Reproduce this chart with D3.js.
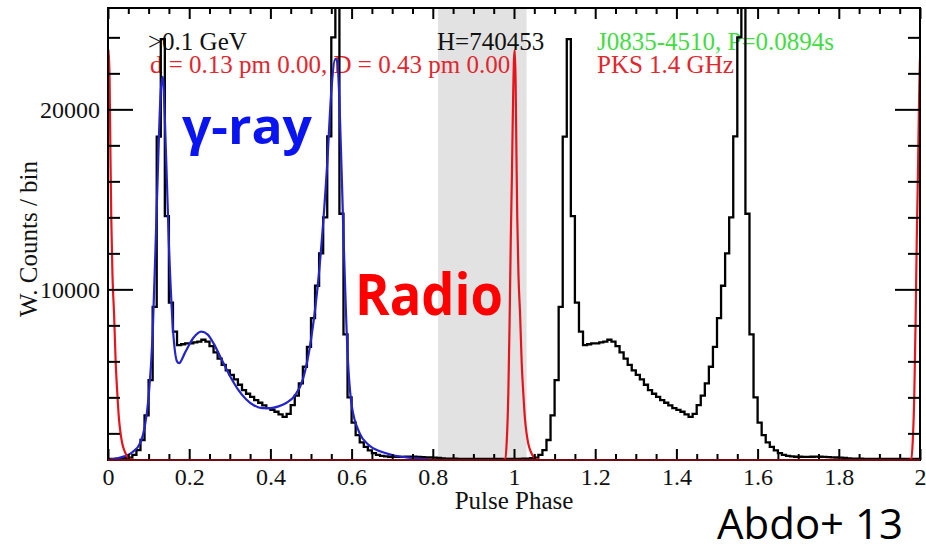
<!DOCTYPE html>
<html>
<head>
<meta charset="utf-8">
<script src="https://cdn.jsdelivr.net/npm/d3@7"></script>
<style>
  body { margin: 0; background: #fff; }
  svg { display: block; }
</style>
</head>
<body>
<div id="canvas"></div>
<script>
// weighted counts per 0.01 phase bin (one rotation, plotted twice)
const counts = [
  580, 580, 590, 600, 620, 650, 800, 1070, 1630, 3000,
  4960, 9030, 18480, 23900, 14070, 9260, 7650, 6900, 6950, 7000,
  7000, 7050, 7100, 7200, 7100, 6850, 6500, 6150, 5800, 5500,
  5250, 5000, 4700, 4400, 4200, 4030, 3850, 3700, 3550, 3400,
  3300, 3200, 3050, 2920, 3080, 3570, 4100, 4780, 5700, 6800,
  8400, 10200, 12000, 14000, 18500, 24000, 26500, 14200, 7500, 4000,
  2600, 1900, 1500, 1250, 1050, 900, 800, 750, 720, 700,
  700, 690, 690, 700, 710, 700, 690, 680, 670, 660,
  650, 630, 610, 600, 590, 590, 580, 580, 580, 580,
  580, 580, 580, 580, 580, 580, 580, 580, 580, 580
];

// gamma-ray template fit (first rotation only)
const fitPhase = [0, 0.02, 0.04, 0.06, 0.08, 0.09, 0.10, 0.11, 0.12, 0.13, 0.135, 0.14, 0.15, 0.16, 0.17, 0.175,
  0.19, 0.21, 0.23, 0.245, 0.26, 0.28, 0.30, 0.32, 0.34, 0.36, 0.38, 0.40, 0.42, 0.44, 0.46, 0.48,
  0.50, 0.52, 0.54, 0.55, 0.56, 0.565, 0.57, 0.58, 0.59, 0.60, 0.62, 0.64, 0.67, 0.70, 0.74, 0.79];
const fitValue = [530, 600, 720, 950, 1500, 2300, 4000, 7500, 14500, 21000, 21800, 19500, 12500, 7800, 6000, 5900,
  6500, 7300, 7650, 7500, 7000, 6100, 5200, 4450, 3900, 3550, 3400, 3400, 3500, 3700, 4100, 5000,
  7200, 11000, 17000, 21000, 22800, 22600, 20500, 13000, 6500, 3600, 2000, 1400, 1000, 800, 650, 560];

// radio profile, phase offset from the radio peak
const radioOffset = [-0.06, -0.03, -0.022, -0.018, -0.014, -0.011, -0.008, -0.005, -0.003, 0, 0.002, 0.004,
  0.006, 0.008, 0.011, 0.015, 0.019, 0.023, 0.027, 0.031, 0.035, 0.041, 0.048, 0.056, 0.066];
const radioValue = [520, 520, 560, 1500, 4200, 8000, 12700, 16500, 19500, 22800, 23300, 21500,
  17500, 14000, 10800, 8600, 5900, 4200, 2800, 2000, 1450, 1000, 700, 560, 520];
const radioPeaks = [0, 1, 2];

const offPulse = [0.813, 1.031];
const xMajor = [0, 0.2, 0.4, 0.6, 0.8, 1, 1.2, 1.4, 1.6, 1.8, 2];
const xTickLabels = ["0", "0.2", "0.4", "0.6", "0.8", "1", "1.2", "1.4", "1.6", "1.8", "2"];
const yMajor = [10000, 20000];
const yTickLabels = ["10000", "20000"];

const width = 926, height = 548;
const margin = { top: 8, left: 108, bottom: 88, right: 6 };
const serif = "'Liberation Serif', 'DejaVu Serif', serif";

const svg = d3.select("#canvas").append("svg")
  .attr("width", width).attr("height", height);

const x = d3.scaleLinear().domain([0, 2]).range([margin.left, width - margin.right]);
const y = d3.scaleLinear().domain([520, 25630]).range([height - margin.bottom, margin.top]);

svg.append("defs").append("clipPath").attr("id", "plot")
  .append("rect")
  .attr("x", x(0)).attr("y", y.range()[1])
  .attr("width", x(2) - x(0)).attr("height", y.range()[0] - y.range()[1]);

// off-pulse band
svg.append("rect")
  .attr("x", x(offPulse[0])).attr("y", y.range()[1])
  .attr("width", x(offPulse[1]) - x(offPulse[0]))
  .attr("height", y.range()[0] - y.range()[1])
  .attr("fill", "#e2e2e2");

// labels inside the frame
const txt = svg.append("g").attr("font-family", serif).attr("font-size", 25);
txt.append("text").attr("x", 148).attr("y", 50).attr("fill", "#111").text(">0.1 GeV");
txt.append("text").attr("x", 150).attr("y", 73).attr("fill", "#e3262e").text("d = 0.13 pm 0.00, D = 0.43 pm 0.00");
txt.append("text").attr("x", 437).attr("y", 50).attr("fill", "#111").text("H=740453");
txt.append("text").attr("x", 597).attr("y", 50).attr("fill", "#43dc43").text("J0835-4510, P=0.0894s");
txt.append("text").attr("x", 597).attr("y", 73).attr("fill", "#e3262e").text("PKS 1.4 GHz");

const plot = svg.append("g").attr("clip-path", "url(#plot)");

// histogram over two rotations
const hist = d3.range(200).map(i => ({ p: i / 100, v: counts[i % 100] }));
hist.push({ p: 2, v: counts[99] });
plot.append("path")
  .datum(hist)
  .attr("fill", "none").attr("stroke", "#000").attr("stroke-width", 2.3)
  .attr("d", d3.line().x(d => x(d.p)).y(d => y(d.v)).curve(d3.curveStepAfter));

plot.append("path")
  .datum(fitPhase.map((p, i) => ({ p: p, v: fitValue[i] })))
  .attr("fill", "none").attr("stroke", "#2424cc").attr("stroke-width", 2.2)
  .attr("d", d3.line().x(d => x(d.p)).y(d => y(d.v)).curve(d3.curveMonotoneX));

// radio pulses
radioPeaks.forEach(c => {
  plot.append("path")
    .datum(radioOffset.map((o, i) => ({ p: c + o, v: radioValue[i] })))
    .attr("fill", "none").attr("stroke", "#e8141c").attr("stroke-width", 2.2)
    .attr("d", d3.line().x(d => x(d.p)).y(d => y(d.v)).curve(d3.curveMonotoneX));
});

// axes with inward ticks on all four sides
const xMinor = d3.range(0, 2.001, 0.05).filter(v => Math.abs(v * 5 - Math.round(v * 5)) > 1e-6);
const yMinor = d3.range(2000, 25000, 2000).filter(v => v % 10000 !== 0);

function axis(gen, tx, ty, vals, size, labels) {
  const g = svg.append("g")
    .attr("transform", `translate(${tx},${ty})`)
    .call(gen.tickValues(vals).tickSize(size).tickPadding(8)
      .tickFormat((d, i) => labels ? labels[i] : ""));
  g.select(".domain").remove();
  g.selectAll(".tick line").attr("stroke", "#000").attr("stroke-width", 2);
  g.selectAll("text").attr("font-family", serif).attr("font-size", 24).attr("fill", "#111");
  return g;
}
const yb = y.range()[0], yt = y.range()[1];
axis(d3.axisBottom(x), 0, yb, xMajor, -11, xTickLabels);
axis(d3.axisBottom(x), 0, yb, xMinor, -6, null);
axis(d3.axisTop(x), 0, yt, xMajor, -11, null);
axis(d3.axisTop(x), 0, yt, xMinor, -6, null);
axis(d3.axisLeft(y), x(0), 0, yMajor, -25, yTickLabels);
axis(d3.axisLeft(y), x(0), 0, yMinor, -12, null);
axis(d3.axisRight(y), x(2), 0, yMajor, -25, null);
axis(d3.axisRight(y), x(2), 0, yMinor, -12, null);

svg.append("rect")
  .attr("x", x(0)).attr("y", yt)
  .attr("width", x(2) - x(0)).attr("height", yb - yt)
  .attr("fill", "none").attr("stroke", "#000").attr("stroke-width", 2);

// radio baseline runs along the bottom of the frame
svg.append("line")
  .attr("x1", x(0)).attr("x2", x(2)).attr("y1", y(radioValue[0])).attr("y2", y(radioValue[0]))
  .attr("stroke", "#e8141c").attr("stroke-width", 1);

svg.append("text")
  .attr("x", (x(0) + x(2)) / 2).attr("y", 509)
  .attr("text-anchor", "middle")
  .attr("font-family", serif).attr("font-size", 25).attr("fill", "#111")
  .text("Pulse Phase");

svg.append("text")
  .attr("transform", `translate(37,${(yb + yt) / 2 + 5}) rotate(-90)`)
  .attr("text-anchor", "middle")
  .attr("font-family", serif).attr("font-size", 25).attr("fill", "#111")
  .text("W. Counts / bin");

// slide annotations
const sans = "'Open Sans', 'Noto Sans', sans-serif";
svg.append("text")
  .attr("x", 182).attr("y", 144)
  .attr("font-family", sans).attr("font-weight", "bold").attr("font-size", 48)
  .attr("fill", "#0a14f0")
  .attr("textLength", 130).attr("lengthAdjust", "spacingAndGlyphs")
  .text("γ-ray");
svg.append("text")
  .attr("x", 355).attr("y", 315)
  .attr("font-family", sans).attr("font-weight", "bold").attr("font-size", 58)
  .attr("fill", "#ff0000")
  .attr("textLength", 148).attr("lengthAdjust", "spacingAndGlyphs")
  .text("Radio");
svg.append("text")
  .attr("x", 717).attr("y", 539)
  .attr("font-family", sans).attr("font-size", 42).attr("fill", "#000")
  .attr("textLength", 186).attr("lengthAdjust", "spacingAndGlyphs")
  .text("Abdo+ 13");
</script>
</body>
</html>
